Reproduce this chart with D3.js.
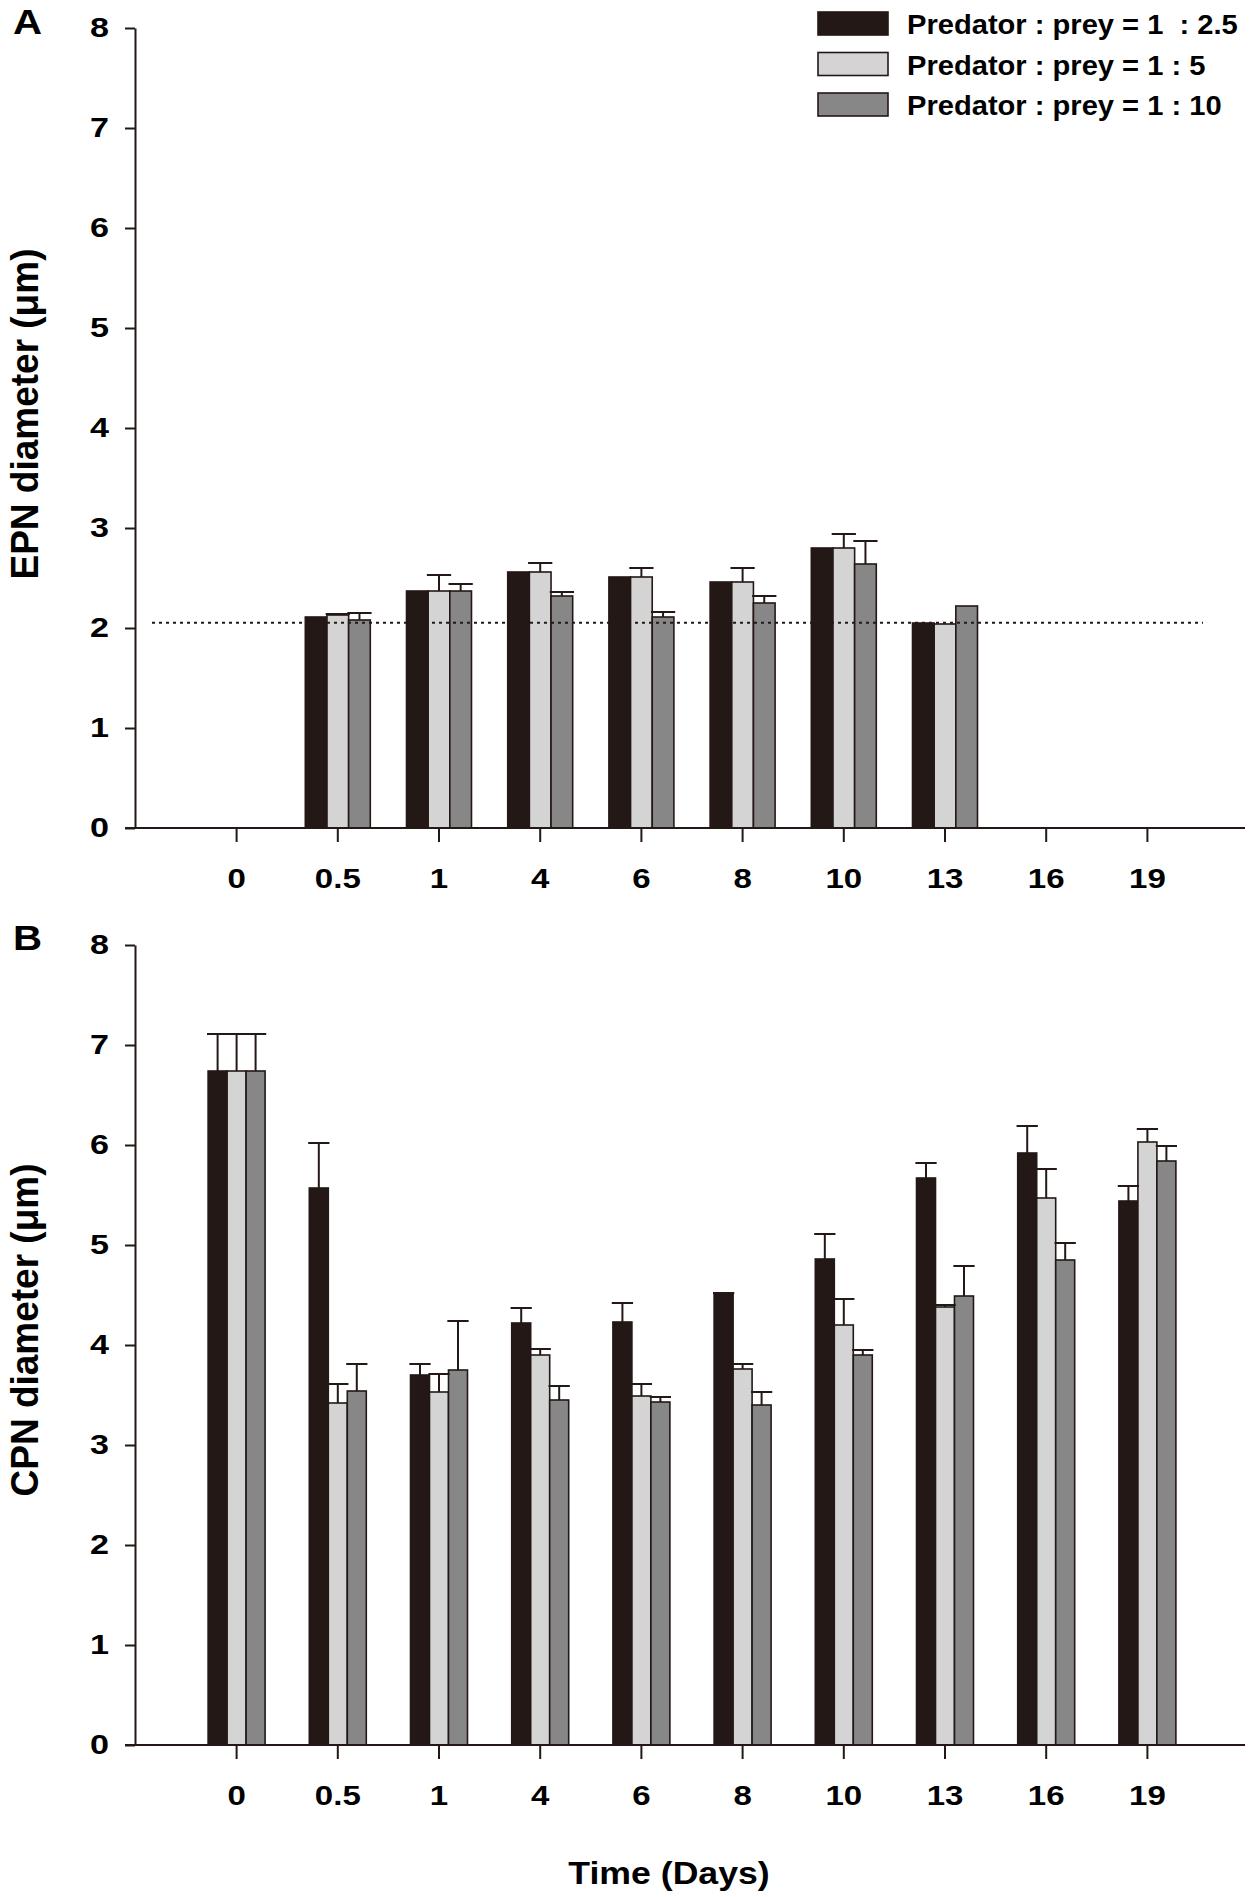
<!DOCTYPE html>
<html>
<head>
<meta charset="utf-8">
<script src="https://cdn.jsdelivr.net/npm/d3@7"></script>
<style>
body { margin: 0; background: #fff; }
text { font-family: "Liberation Sans", Arial, sans-serif; font-weight: bold; fill: #000; }
</style>
</head>
<body>
<div id="canvas"></div>
<script>
// categories and series
var days = ["0", "0.5", "1", "4", "6", "8", "10", "13", "16", "19"];
var seriesNames = ["Predator : prey = 1  : 2.5", "Predator : prey = 1 : 5", "Predator : prey = 1 : 10"];
var yTicks = [0, 1, 2, 3, 4, 5, 6, 7, 8];

// panel A - EPN diameter (means, then error bars)
var epn25 = [0, 2.11, 2.37, 2.56, 2.51, 2.46, 2.80, 2.05, 0, 0];
var epn5  = [0, 2.13, 2.37, 2.56, 2.51, 2.46, 2.80, 2.04, 0, 0];
var epn10 = [0, 2.08, 2.37, 2.32, 2.11, 2.25, 2.64, 2.22, 0, 0];
var epn25Err = [0, 0, 0, 0, 0, 0, 0, 0, 0, 0];
var epn5Err  = [0, 0.01, 0.16, 0.09, 0.09, 0.14, 0.14, 0, 0, 0];
var epn10Err = [0, 0.07, 0.07, 0.04, 0.05, 0.07, 0.23, 0, 0, 0];
var epnBaseline = 2.053;

// panel B - CPN diameter
var cpn25 = [6.74, 5.57, 3.70, 4.22, 4.23, 4.51, 4.86, 5.67, 5.92, 5.44];
var cpn5  = [6.74, 3.42, 3.53, 3.90, 3.49, 3.76, 4.20, 4.38, 5.47, 6.03];
var cpn10 = [6.74, 3.54, 3.75, 3.45, 3.43, 3.40, 3.90, 4.49, 4.85, 5.84];
var cpn25Err = [0.37, 0.45, 0.11, 0.15, 0.19, 0.01, 0.25, 0.15, 0.27, 0.15];
var cpn5Err  = [0.37, 0.19, 0.18, 0.06, 0.12, 0.05, 0.26, 0.02, 0.29, 0.13];
var cpn10Err = [0.37, 0.27, 0.49, 0.14, 0.05, 0.13, 0.05, 0.30, 0.17, 0.15];

var colors = ["#231815", "#d4d4d4", "#878787"];
var ink = "#231815";

var svg = d3.select("#canvas").append("svg")
    .attr("width", 1257)
    .attr("height", 1897);

function drawPanel(p) {
    var g = svg.append("g");

    var x = d3.scaleBand().domain(days).range([186, 1198])
        .paddingInner(p.pad).paddingOuter(p.pad / 2);
    var xi = d3.scaleBand().domain([0, 1, 2]).range([0, x.bandwidth()]);
    var y = d3.scaleLinear().domain([0, 8]).range([p.bottom, p.top]);

    var rows = [];
    p.means.forEach(function (vals, s) {
        vals.forEach(function (v, i) {
            rows.push({ s: s, day: days[i], v: v, e: p.errs[s][i] });
        });
    });
    rows = rows.filter(function (d) { return d.v > 0; });

    g.selectAll("rect.bar").data(rows).enter().append("rect")
        .attr("class", "bar")
        .attr("x", function (d) { return x(d.day) + xi(d.s); })
        .attr("y", function (d) { return y(d.v); })
        .attr("width", xi.bandwidth())
        .attr("height", function (d) { return y(0) - y(d.v); })
        .style("fill", function (d) { return colors[d.s]; })
        .style("stroke", ink)
        .style("stroke-width", 1.6);

    // error bars (upper only)
    var capW = xi.bandwidth() * 1.12;
    var errRows = rows.filter(function (d) { return d.e > 0; });
    var eg = g.selectAll("g.err").data(errRows).enter().append("g").attr("class", "err")
        .style("stroke", ink).style("stroke-width", 2);
    eg.append("line")
        .attr("x1", function (d) { return x(d.day) + xi(d.s) + xi.bandwidth() / 2; })
        .attr("x2", function (d) { return x(d.day) + xi(d.s) + xi.bandwidth() / 2; })
        .attr("y1", function (d) { return y(d.v); })
        .attr("y2", function (d) { return y(d.v + d.e); });
    eg.append("line")
        .attr("x1", function (d) { return x(d.day) + xi(d.s) + xi.bandwidth() / 2 - capW / 2; })
        .attr("x2", function (d) { return x(d.day) + xi(d.s) + xi.bandwidth() / 2 + capW / 2; })
        .attr("y1", function (d) { return y(d.v + d.e); })
        .attr("y2", function (d) { return y(d.v + d.e); });

    if (p.baseline) {
        g.append("line")
            .attr("x1", 152).attr("x2", 1203)
            .attr("y1", y(p.baseline)).attr("y2", y(p.baseline))
            .style("stroke", ink).style("stroke-width", 2)
            .style("stroke-dasharray", "3,4");
    }

    // y axis
    var ya = g.append("g").attr("transform", "translate(135,0)")
        .call(d3.axisLeft(y).tickValues(yTicks).tickSize(10).tickSizeOuter(0).tickFormat(d3.format("d")));
    ya.selectAll("path, line").style("stroke", ink).style("stroke-width", 2);
    ya.selectAll("text")
        .attr("x", 0)
        .attr("transform", "translate(-26,0) scale(1.22,1)")
        .style("font-size", "28px")
        .style("font-family", "'Liberation Sans', Arial, sans-serif")
        .style("font-weight", "bold")
        .style("fill", "#000");

    // x axis
    var xa = g.append("g").attr("transform", "translate(0," + p.bottom + ")")
        .call(d3.axisBottom(x).tickSize(14).tickSizeOuter(0));
    xa.select(".domain").remove();
    xa.selectAll("line").style("stroke", ink).style("stroke-width", 2);
    xa.selectAll("text")
        .attr("y", 40)
        .attr("transform", "scale(1.18,1)")
        .style("font-size", "28px")
        .style("font-family", "'Liberation Sans', Arial, sans-serif")
        .style("font-weight", "bold")
        .style("fill", "#000");
    g.append("line")
        .attr("x1", 125).attr("x2", 1245)
        .attr("y1", p.bottom).attr("y2", p.bottom)
        .style("stroke", ink).style("stroke-width", 2.2);

    // axis title and panel letter
    g.append("text")
        .attr("transform", "translate(38," + p.titleY + ") scale(1.05,1) rotate(-90)")
        .attr("text-anchor", "middle")
        .style("font-size", "37px")
        .text(p.title);
    g.append("text")
        .attr("transform", "translate(13," + p.letterY + ") scale(1.15,1)")
        .style("font-size", "35px")
        .text(p.letter);
}

drawPanel({
    top: 28, bottom: 828, pad: 0.358,
    means: [epn25, epn5, epn10], errs: [epn25Err, epn5Err, epn10Err],
    baseline: epnBaseline,
    title: "EPN diameter (\u03bcm)", titleY: 414,
    letter: "A", letterY: 34
});

drawPanel({
    top: 945, bottom: 1745, pad: 0.437,
    means: [cpn25, cpn5, cpn10], errs: [cpn25Err, cpn5Err, cpn10Err],
    baseline: null,
    title: "CPN diameter (\u03bcm)", titleY: 1330,
    letter: "B", letterY: 950
});

// legend
var legend = svg.append("g").selectAll("g").data(seriesNames).enter().append("g")
    .attr("transform", function (d, i) { return "translate(818," + (12 + i * 40.5) + ")"; });
legend.append("rect")
    .attr("width", 70).attr("height", 23)
    .style("fill", function (d, i) { return colors[i]; })
    .style("stroke", ink).style("stroke-width", 1.6);
legend.append("text")
    .attr("transform", "translate(89,22) scale(1.04,1)")
    .style("font-size", "28px")
    .style("white-space", "pre")
    .attr("xml:space", "preserve")
    .text(function (d) { return d; });

svg.append("text")
    .attr("transform", "translate(669,1884) scale(1.15,1)")
    .attr("text-anchor", "middle")
    .style("font-size", "31px")
    .text("Time (Days)");
</script>
</body>
</html>
